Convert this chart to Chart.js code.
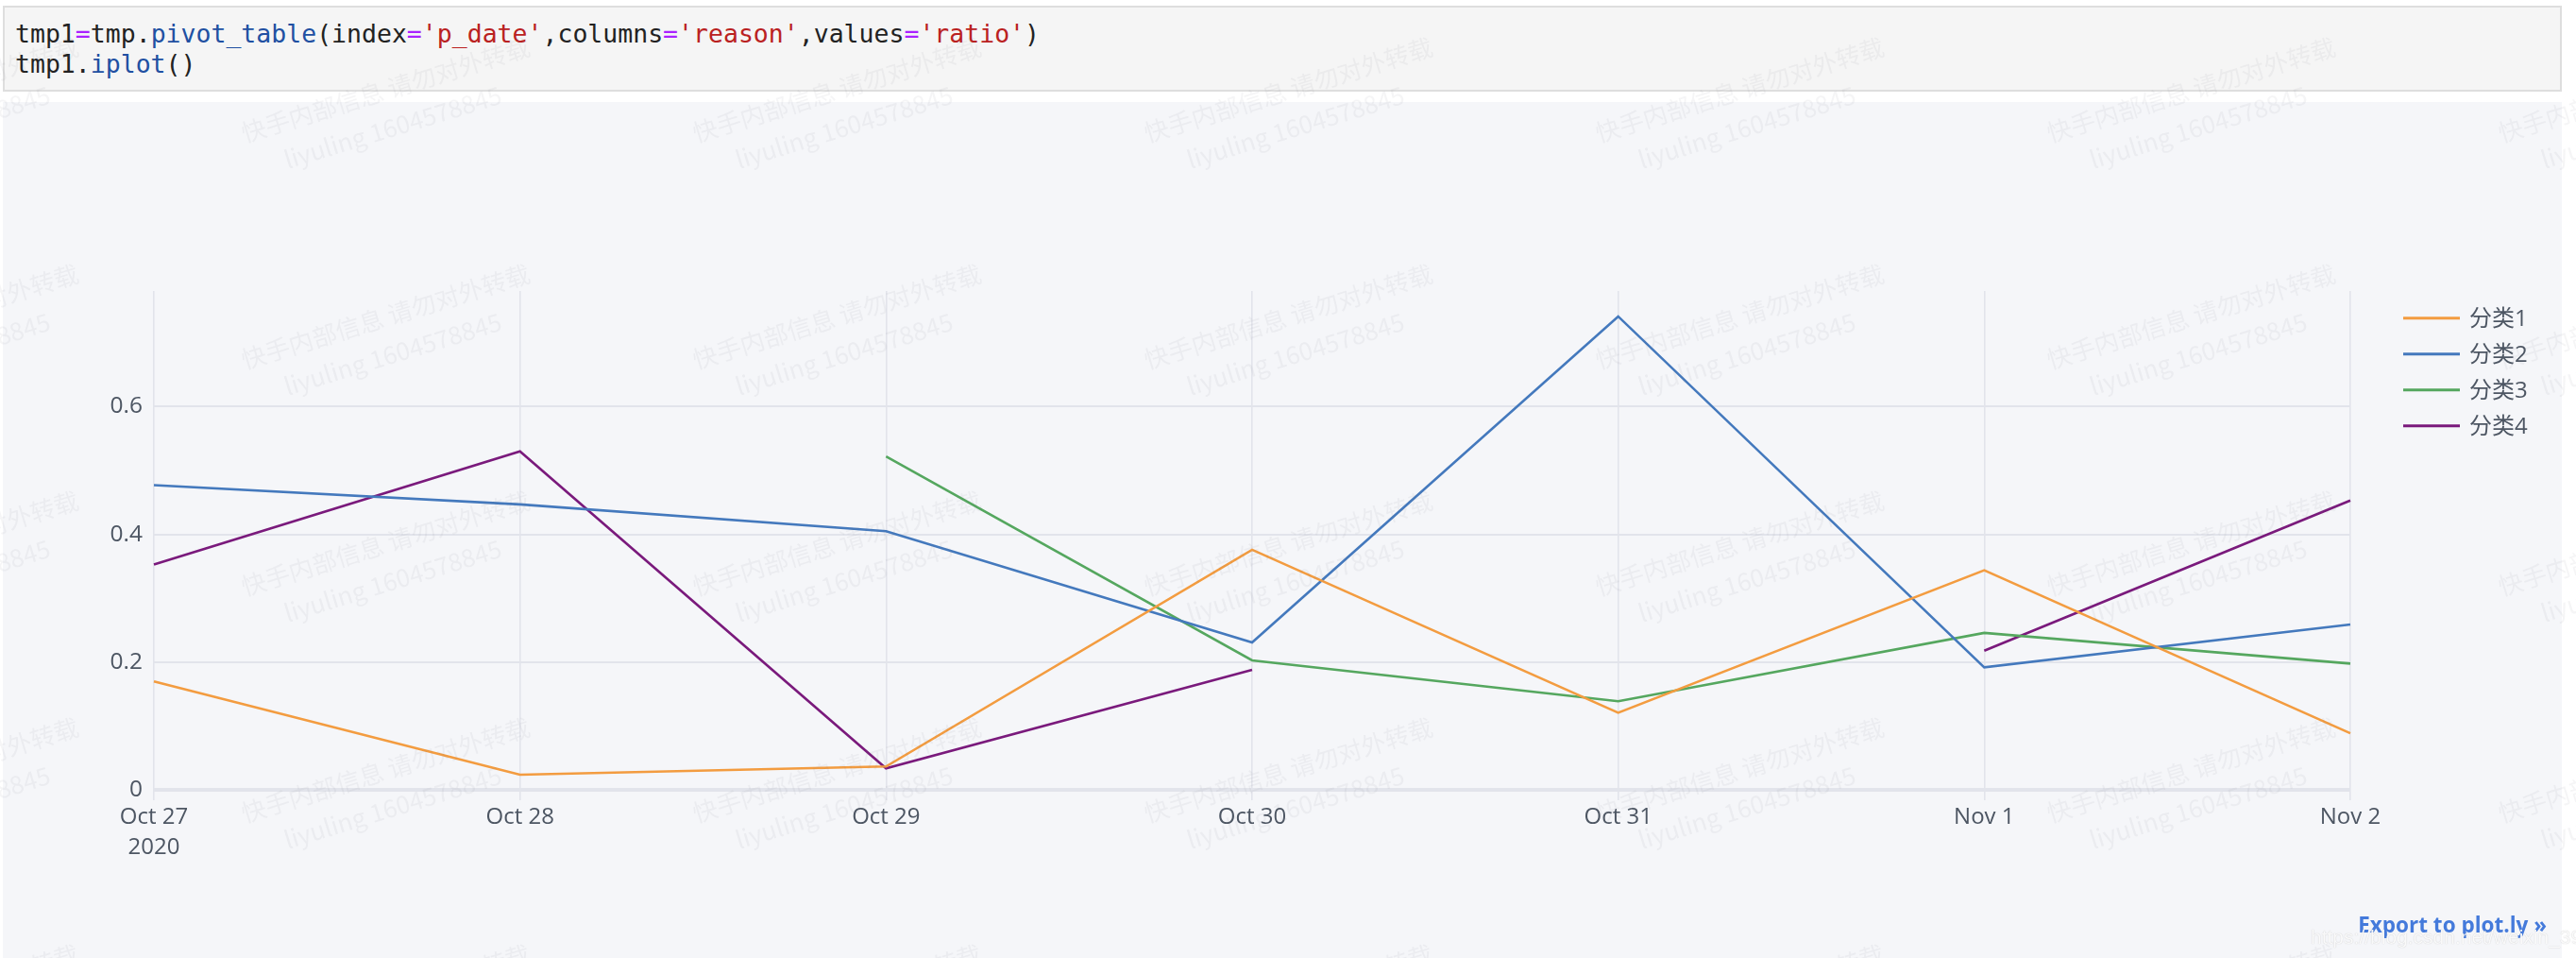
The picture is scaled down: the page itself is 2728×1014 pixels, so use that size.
<!DOCTYPE html>
<html>
<head>
<meta charset="utf-8">
<script src="https://cdn.jsdelivr.net/npm/chart.js@4"></script>
<style>
  html, body { margin:0; padding:0; background:#ffffff; width:2728px; height:1014px; overflow:hidden; position:relative; }
  #code { position:absolute; left:3px; top:6px; width:2706px; height:87px; background:#F5F5F5; border:2px solid #DEDEDE;
          font-family:"DejaVu Sans Mono", monospace; font-size:26.5px; line-height:32px; color:#222; white-space:pre; }
  #code .in { position:absolute; left:11px; top:12px; }
  .op { color:#AA22FF; } .pr { color:#2150A2; } .st { color:#BA2121; }
  #paper { position:absolute; left:3px; top:108px; width:2710px; height:906px; background:#F5F6F9; }
  #export { position:absolute; right:31px; top:963px; font-family:"Open Sans", sans-serif; font-weight:700; font-size:22.5px; color:#447ADB; }
  #csdn { position:absolute; left:2447px; top:980px; font-family:"Liberation Sans", sans-serif; font-size:21px; color:rgba(255,255,255,0.9);
          text-shadow:0 0 1px rgba(150,150,150,0.6); }
  #wm { position:absolute; left:0; top:0; width:2728px; height:1014px; pointer-events:none; overflow:hidden; }
  .mark { position:absolute; font-family:"Noto Sans CJK SC", sans-serif; font-size:26px; line-height:40px; color:rgba(120,125,140,0.075);
          white-space:pre; transform-origin:0 30px; transform:rotate(-17deg); }
</style>
</head>
<body>
<div id="code"><div class="in">tmp1<span class="op">=</span>tmp.<span class="pr">pivot_table</span>(index<span class="op">=</span><span class="st">'p_date'</span>,columns<span class="op">=</span><span class="st">'reason'</span>,values<span class="op">=</span><span class="st">'ratio'</span>)
tmp1.<span class="pr">iplot</span>()</div></div>
<div id="paper"><canvas id="c"></canvas></div>
<div id="export">Export to plot.ly »</div>
<div id="csdn">https://blog.csdn.net/weixin_39793442</div>
<div id="wm"></div>
<script>
// ---- data ----
const categories = ['Oct 27', 'Oct 28', 'Oct 29', 'Oct 30', 'Oct 31', 'Nov 1', 'Nov 2'];
const xTickLabels = [['Oct 27', '2020'], 'Oct 28', 'Oct 29', 'Oct 30', 'Oct 31', 'Nov 1', 'Nov 2'];
const seriesNames = ['分类1', '分类2', '分类3', '分类4'];
const cat1 = [0.170, 0.024, 0.037, 0.376, 0.121, 0.344, 0.089];
const cat2 = [0.477, 0.447, 0.405, 0.231, 0.741, 0.192, 0.259];
const cat3 = [null, null, 0.522, 0.203, 0.139, 0.246, 0.198];
const cat4 = [0.353, 0.530, 0.034, 0.188, null, 0.218, 0.453];
const yTicks = [0, 0.2, 0.4, 0.6];
const yTickLabels = ['0', '0.2', '0.4', '0.6'];
const seriesColors = ['#F39C40', '#4479BD', '#55A75F', '#7A1A7C'];

// watermark text
const wmLine1 = '快手内部信息 请勿对外转载';
const wmLine2 = 'liyuling 1604578845';
(function(){
  const wm = document.getElementById('wm');
  for (let cx = 259 - 478; cx < 2728; cx += 478) {
    for (let cy = 150 - 240; cy < 1014 + 240; cy += 240) {
      const d = document.createElement('div');
      d.className = 'mark';
      d.style.left = cx + 'px';
      d.style.top = (cy - 30) + 'px';
      d.textContent = wmLine1 + '\n      ' + wmLine2;
      wm.appendChild(d);
    }
  }
})();

const FONT = '"Open Sans", "Noto Sans CJK SC", sans-serif';
const TEXT = '#4D5663';
const GRID = '#E2E4EB';

const legendPlugin = {
  id: 'plotlyLegend',
  afterDraw(chart) {
    const ctx = chart.ctx;
    ctx.save();
    const x0 = 2542, x1 = 2602, tx = 2612, y0 = 228.7, dy = 38;
    chart.data.datasets.forEach((ds, i) => {
      const y = y0 + i * dy;
      ctx.strokeStyle = ds.borderColor;
      ctx.lineWidth = 3;
      ctx.beginPath(); ctx.moveTo(x0, y); ctx.lineTo(x1, y); ctx.stroke();
      ctx.fillStyle = TEXT;
      ctx.font = '24px ' + FONT;
      ctx.textBaseline = 'middle';
      ctx.textAlign = 'left';
      ctx.fillText(ds.label, tx, y + 1);
    });
    ctx.restore();
  }
};

const seriesData = [cat1, cat2, cat3, cat4];
new Chart(document.getElementById('c'), {
  type: 'line',
  data: {
    labels: categories,
    datasets: seriesNames.map((n, i) => ({
      label: n,
      data: seriesData[i],
      borderColor: seriesColors[i],
      backgroundColor: seriesColors[i],
      borderWidth: 2.6,
      pointRadius: 0,
      pointHoverRadius: 0,
      tension: 0,
      spanGaps: false,
      fill: false
    }))
  },
  options: {
    responsive: true,
    maintainAspectRatio: false,
    animation: false,
    events: [],
    layout: { padding: { top: 200, right: 224, left: 0, bottom: 0 } },
    plugins: { legend: { display: false }, tooltip: { enabled: false } },
    scales: {
      x: {
        type: 'category',
        offset: false,
        border: { display: false },
        grid: { color: GRID, lineWidth: 1.6, drawTicks: false },
        ticks: {
          color: TEXT, font: { family: FONT, size: 24, lineHeight: 1.3 }, padding: 3,
          maxRotation: 0, autoSkip: false,
          callback: (v, i) => xTickLabels[i]
        },
        afterFit: (s) => { s.height = 167; }
      },
      y: {
        min: -0.0158,
        max: 0.7808,
        border: { display: false },
        grid: { color: GRID, lineWidth: (c) => (c.tick && c.tick.value === 0 ? 4 : 2), drawTicks: false },
        ticks: {
          color: TEXT, font: { family: FONT, size: 24.5 }, padding: 12,
          callback: (v) => { const k = yTicks.indexOf(v); return k >= 0 ? yTickLabels[k] : ''; }
        },
        afterBuildTicks: (s) => { s.ticks = yTicks.map(v => ({ value: v })); },
        afterFit: (s) => { s.width = 160; }
      }
    }
  },
  plugins: [legendPlugin]
});
</script>
</body>
</html>
